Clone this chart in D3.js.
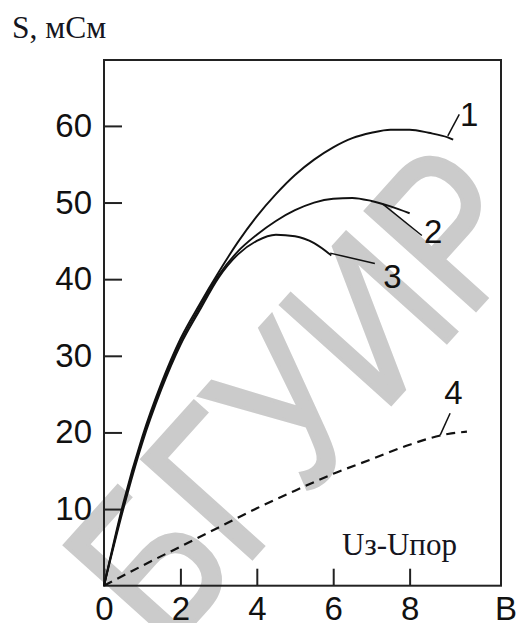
<!DOCTYPE html>
<html>
<head>
<meta charset="utf-8">
<script src="https://cdn.jsdelivr.net/npm/d3@7"></script>
<style>
  html, body { margin: 0; padding: 0; background: #fff; }
  svg { display: block; }
</style>
</head>
<body>
<svg id="chart" width="520" height="623"></svg>
<script>
// Transconductance S (mS) versus gate overdrive Uз-Uпор (V)
const xVals1 = [0, 0.5, 1, 1.5, 2, 2.5, 3, 3.5, 4, 4.5, 5, 5.5, 6, 6.5, 7, 7.5, 8, 8.5, 9, 9.14];
const sVals1 = [0, 10.7, 19.4, 26.4, 32.2, 36.7, 40.9, 44.8, 48.2, 51.1, 53.6, 55.6, 57.2, 58.4, 59.1, 59.5, 59.5, 59.1, 58.5, 58.2];

const xVals2 = [0, 0.5, 1, 1.5, 2, 2.5, 3, 3.5, 4, 4.5, 5, 5.5, 6, 6.5, 7, 7.5, 8.0];
const sVals2 = [0, 10.3, 19.0, 26.0, 31.8, 36.3, 40.5, 43.6, 45.8, 47.6, 49.0, 50.0, 50.5, 50.6, 50.2, 49.5, 48.6];

const xVals3 = [0, 0.5, 1, 1.5, 2, 2.5, 3, 3.5, 4, 4.5, 5, 5.5, 5.95];
const sVals3 = [0, 9.9, 18.6, 25.6, 31.4, 35.9, 40.2, 43.2, 45.0, 45.8, 45.6, 44.7, 43.1];

const xVals4 = [0, 1, 2, 3, 4, 5, 6, 7, 8, 9, 9.5];
const sVals4 = [0, 2.6, 5.1, 7.6, 10.1, 12.4, 14.6, 16.5, 18.4, 19.8, 20.1];

// Curve numbers: leader start on the curve, leader end, label position
const curveNames = ["1", "2", "3", "4"];
const leaderFrom = [[9.0, 58.7], [7.3, 49.8], [5.92, 43.4], [8.8, 19.65]];
const leaderTo   = [[9.3, 61.5], [8.32, 45.7], [7.09, 42.05], [9.06, 22.5]];
const labelAt    = [[9.56, 61.5], [8.62, 46.2], [7.55, 40.4], [9.15, 25.2]];

const xTicks = [0, 2, 4, 6, 8];
const yTicks = [10, 20, 30, 40, 50, 60];

const yTitle = "S, мСм";
const xTitle = "Uз-Uпор";
const xUnit = "В";
const watermark = "БГУИР";

const svg = d3.select("#chart");
const plotLeft = 104, plotRight = 501, plotTop = 60, plotBottom = 585.7;

const x = d3.scaleLinear().domain([0, 10.4]).range([plotLeft, plotRight + 0.3]);
const y = d3.scaleLinear().domain([0, 68.6]).range([plotBottom, plotTop]);

svg.append("rect").attr("width", 520).attr("height", 623).attr("fill", "#fff");

// Watermark behind the plot (condensed, rotated)
svg.append("text")
  .attr("transform", "translate(165,655) rotate(-48) scale(0.82,1)")
  .attr("text-anchor", "start")
  .attr("font-family", "Liberation Sans, Arial, sans-serif")
  .attr("font-size", 215)
  .attr("fill", "#cbcbcb")
  .attr("stroke", "#cbcbcb")
  .attr("stroke-width", 4)
  .attr("stroke-linejoin", "miter")
  .text(watermark);

const sansFont = "Liberation Sans, Arial, sans-serif";
const serifFont = "Liberation Serif, Times New Roman, serif";

// Axes with inward ticks
const yAxis = d3.axisLeft(y).tickValues(yTicks).tickSizeInner(-18).tickSizeOuter(0).tickPadding(12);
const xAxis = d3.axisBottom(x).tickValues(xTicks).tickSizeInner(-17).tickSizeOuter(0).tickPadding(11);

const gy = svg.append("g").attr("transform", `translate(${plotLeft},0)`).call(yAxis);
const gx = svg.append("g").attr("transform", `translate(0,${plotBottom})`).call(xAxis);
[gy, gx].forEach(g => {
  g.select(".domain").remove();
  g.selectAll(".tick line").attr("stroke", "#222").attr("stroke-width", 2);
  g.selectAll(".tick text")
    .attr("font-family", sansFont)
    .attr("font-size", 33)
    .attr("fill", "#111");
});

// Frame
svg.append("rect")
  .attr("x", plotLeft).attr("y", plotTop)
  .attr("width", plotRight - plotLeft).attr("height", plotBottom - plotTop)
  .attr("fill", "none").attr("stroke", "#222").attr("stroke-width", 2);

// Curves
const line = d3.line().x(d => x(d[0])).y(d => y(d[1])).curve(d3.curveMonotoneX);
const series = [
  { xs: xVals1, ys: sVals1, dash: null },
  { xs: xVals2, ys: sVals2, dash: null },
  { xs: xVals3, ys: sVals3, dash: null },
  { xs: xVals4, ys: sVals4, dash: "9,6" }
];
series.forEach(s => {
  svg.append("path")
    .datum(s.xs.map((v, i) => [v, s.ys[i]]))
    .attr("d", line)
    .attr("fill", "none")
    .attr("stroke", "#111")
    .attr("stroke-width", s.dash ? 2.2 : 1.9)
    .attr("stroke-dasharray", s.dash);
});

// Leaders and curve numbers
curveNames.forEach((name, i) => {
  svg.append("line")
    .attr("x1", x(leaderFrom[i][0])).attr("y1", y(leaderFrom[i][1]))
    .attr("x2", x(leaderTo[i][0])).attr("y2", y(leaderTo[i][1]))
    .attr("stroke", "#111").attr("stroke-width", 1.5);
  svg.append("text")
    .attr("x", x(labelAt[i][0])).attr("y", y(labelAt[i][1]))
    .attr("text-anchor", "middle")
    .attr("dominant-baseline", "central")
    .attr("font-family", sansFont)
    .attr("font-size", 33)
    .attr("fill", "#111")
    .text(name);
});

// Titles
svg.append("text")
  .attr("x", 12).attr("y", 38)
  .attr("font-family", serifFont)
  .attr("font-size", 31.5)
  .attr("fill", "#151520")
  .text(yTitle);

svg.append("text")
  .attr("x", 342).attr("y", 555)
  .attr("font-family", serifFont)
  .attr("font-size", 31)
  .attr("fill", "#151520")
  .text(xTitle);

svg.append("text")
  .attr("x", 506).attr("y", 620)
  .attr("text-anchor", "middle")
  .attr("font-family", sansFont)
  .attr("font-size", 33)
  .attr("fill", "#111")
  .text(xUnit);
</script>
</body>
</html>
